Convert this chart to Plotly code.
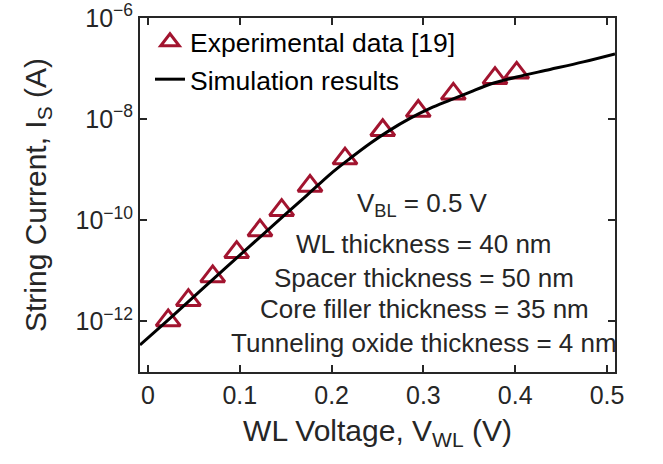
import plotly.graph_objects as go

exp_v = [0.022, 0.044, 0.0705, 0.0966, 0.122, 0.1456, 0.1765, 0.2146, 0.2557, 0.2944, 0.3326, 0.378, 0.4016]
exp_logi = [-11.98, -11.58, -11.11, -10.63, -10.20, -9.80, -9.32, -8.78, -8.22, -7.84, -7.50, -7.19, -7.085]
exp_i = [10 ** v for v in exp_logi]

# Simulation curve
sim_v = [-0.0087, 0.0218, 0.0566, 0.111, 0.1508, 0.1765, 0.1983, 0.2200, 0.2418, 0.2636, 0.2854,
         0.3072, 0.3290, 0.3508, 0.3725, 0.4016, 0.4379, 0.4742, 0.5087]
sim_logi = [-12.466, -11.972, -11.40, -10.51, -9.864, -9.45, -9.09, -8.777, -8.48, -8.217, -7.986,
            -7.789, -7.625, -7.465, -7.31, -7.165, -7.018, -6.868, -6.71]
sim_i = [10 ** v for v in sim_logi]

x_ticks = [0, 0.1, 0.2, 0.3, 0.4, 0.5]
x_ticktext = ["0", "0.1", "0.2", "0.3", "0.4", "0.5"]
y_ticks = [1e-12, 1e-10, 1e-8, 1e-6]
y_ticktext = ["10<sup>\u221212</sup>", "10<sup>\u221210</sup>", "10<sup>\u22128</sup>", "10<sup>\u22126</sup>"]

notes = [
    "V<sub>BL</sub> = 0.5 V",
    "WL thickness = 40 nm",
    "Spacer thickness = 50 nm",
    "Core filler thickness = 35 nm",
    "Tunneling oxide thickness = 4 nm",
]

FONT = "Liberation Sans, Arial, Helvetica, sans-serif"
TXT = "#262626"
RED = "#A2142F"

fig = go.Figure()
fig.add_trace(go.Scatter(
    x=exp_v, y=exp_i, mode="markers", name="Experimental data [19]",
    marker=dict(symbol="triangle-up-open", size=21, color=RED, line=dict(width=3, color=RED)),
))
fig.add_trace(go.Scatter(
    x=sim_v, y=sim_i, mode="lines", name="Simulation results",
    line=dict(color="black", width=3, shape="spline", smoothing=1.0),
))

# Plot area: left 140, right 615, top 17.5, bottom 372 (px of 663x464)
W, H = 663, 464
L, R, T, B = 140, 615, 17.5, 372

note_x = [422, 424, 424, 424, 424]
note_y = [204, 244, 277.5, 309, 342.5]
for txt, nx, ny in zip(notes, note_x, note_y):
    fig.add_annotation(
        text=txt, xref="paper", yref="paper",
        x=(nx - L) / (R - L), y=(B - ny) / (B - T),
        xanchor="center", yanchor="middle", showarrow=False,
        font=dict(family=FONT, size=26, color=TXT),
    )

fig.update_layout(
    width=W, height=H,
    margin=dict(l=L, r=W - R, t=T, b=H - B, pad=0, autoexpand=False),
    paper_bgcolor="white", plot_bgcolor="white",
    font=dict(family=FONT, size=25, color=TXT),
    showlegend=True,
    legend=dict(
        x=0.021, y=1.0, xanchor="left", yanchor="top",
        bgcolor="rgba(0,0,0,0)", borderwidth=0,
        font=dict(family=FONT, size=26.5, color="black"),
        itemwidth=30, tracegroupgap=0,
    ),
)
fig.update_xaxes(
    range=[-0.0087, 0.5087], tickvals=x_ticks, ticktext=x_ticktext,
    ticks="inside", ticklen=7, tickwidth=1.5, tickcolor=TXT,
    showline=True, linecolor=TXT, linewidth=2, mirror="ticks",
    showgrid=False, zeroline=False, automargin=False,
    tickfont=dict(family=FONT, size=25, color=TXT),
    title=dict(text="WL Voltage, V<sub>WL</sub> (V)", font=dict(family=FONT, size=30, color=TXT), standoff=12),
)
fig.update_yaxes(
    type="log", range=[-13, -6], tickvals=y_ticks, ticktext=y_ticktext,
    ticks="inside", ticklen=7, tickwidth=1.5, tickcolor=TXT,
    showline=True, linecolor=TXT, linewidth=2, mirror="ticks",
    showgrid=False, zeroline=False, automargin=True,
    tickfont=dict(family=FONT, size=25, color=TXT),
    title=dict(text="String Current, I<sub>S</sub> (A)", font=dict(family=FONT, size=30, color=TXT), standoff=20),
)

fig.write_html("out.html")
